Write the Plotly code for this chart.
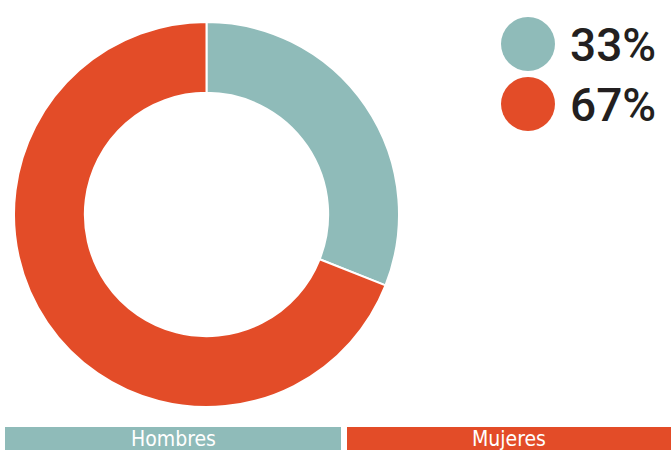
import plotly.graph_objects as go


# ==========================
# DATA
# ==========================

labels = ["Hombres", "Mujeres"]
values = [31, 69]          # slice sizes as drawn
legend_text = ["33%", "67%"]  # percentages as printed
colors = ["#8fbbb9", "#e34c28"]


W = 671
H = 450

FONT = "DejaVu Sans Condensed, DejaVu Sans, sans-serif"


fig = go.Figure()


# Donut

fig.add_trace(
    go.Pie(
        labels=labels,
        values=values,
        hole=0.632,
        sort=False,
        direction="clockwise",
        rotation=0,
        marker=dict(colors=colors, line=dict(color="white", width=2)),
        textinfo="none",
        hoverinfo="label+percent",
        domain=dict(x=[14 / W, 399 / W], y=[1 - 407 / H, 1 - 22 / H]),
        showlegend=False,
    )
)


shapes = []
annotations = []


# Legend (circles + percentages)

for i, (txt, c) in enumerate(zip(legend_text, colors)):

    cy = 44 + i * 60

    shapes.append(
        dict(
            type="circle",
            xref="paper", yref="paper",
            x0=(528 - 27) / W, x1=(528 + 27) / W,
            y0=1 - (cy + 27) / H, y1=1 - (cy - 27) / H,
            fillcolor=c,
            line=dict(width=0),
        )
    )

    annotations.append(
        dict(
            text=txt,
            xref="paper", yref="paper",
            x=568 / W, y=1 - (cy + 1) / H,
            xanchor="left", yanchor="middle",
            showarrow=False,
            font=dict(family="Roboto, sans-serif", size=46, color="#231f20", weight=500),
        )
    )


# Bottom category bars

bar_x = [(5, 341), (347, 671)]

for (x0, x1), lab, c in zip(bar_x, labels, colors):

    shapes.append(
        dict(
            type="rect",
            xref="paper", yref="paper",
            x0=x0 / W, x1=x1 / W,
            y0=0, y1=1 - 427 / H,
            fillcolor=c,
            line=dict(width=0),
        )
    )

    annotations.append(
        dict(
            text=lab,
            xref="paper", yref="paper",
            x=(x0 + x1) / 2 / W, y=1 - 439 / H,
            xanchor="center", yanchor="middle",
            showarrow=False,
            font=dict(family=FONT, size=21, color="white"),
        )
    )


fig.update_layout(
    width=W,
    height=H,
    margin=dict(l=0, r=0, t=0, b=0),
    paper_bgcolor="white",
    plot_bgcolor="white",
    shapes=shapes,
    annotations=annotations,
)


fig.write_html(
    "out.html",
    config=dict(displayModeBar=False),
    post_script="document.body.style.margin='0';"
)
